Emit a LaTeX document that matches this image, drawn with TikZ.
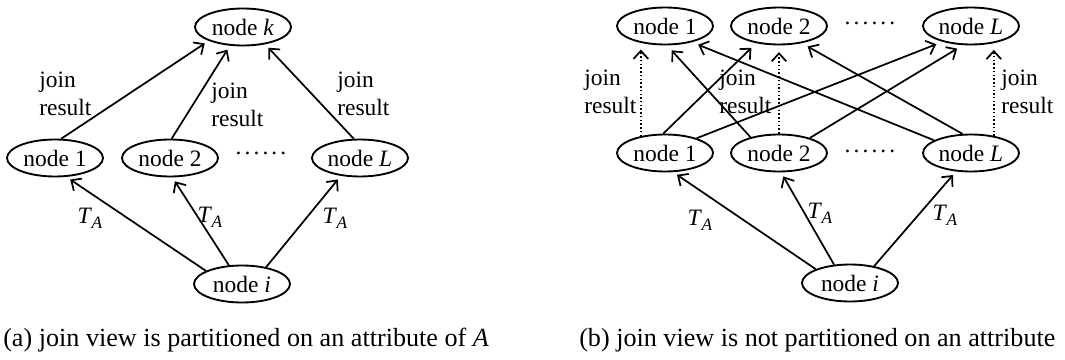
\documentclass[tikz,border=0pt]{standalone}
\usepackage{fontspec}
\setmainfont{Liberation Serif}
\usetikzlibrary{arrows.meta,shapes.geometric}
% subscripted relation name and the row of dots between peers
\newcommand\relTA{\textit{T}\kern-0.3pt\raisebox{-0.45ex}{\fontsize{13pt}{15pt}\selectfont\textit{A}}}
\newcommand\dotrow{.\kern2.3pt.\kern2.3pt.\kern2.3pt.\kern2.3pt.\kern2.3pt.}
\begin{document}
\begin{tikzpicture}[x=0.75pt,y=-0.75pt,
  font=\fontsize{17.6pt}{21pt}\selectfont,
  peer/.style={ellipse,draw,line width=1.4pt,minimum width=72pt,
    minimum height=27.75pt,inner xsep=1pt,inner ysep=0pt},
  link/.style={line width=1.3pt,-{Straight Barb[length=6pt,width=11pt]},shorten >=3.5pt},
  farlink/.style={link,shorten >=5pt},
  dotlink/.style={farlink,dash pattern=on 1.1pt off 1.7pt},
  lbl/.style={align=left,anchor=west,inner sep=0pt},
  sub/.style={inner sep=0pt},
  dots/.style={inner sep=0pt},
  figcaption/.style={anchor=base west,inner sep=0pt,font=\fontsize{19.6pt}{23pt}\selectfont}]
\useasboundingbox (0,0) rectangle (1065,360);

% ---- (a) partitioned join view ----
\node[peer] (lk) at (243,27)  {node \textit{k}};
\node[peer] (l1) at (55,158)  {node 1};
\node[peer] (l2) at (170,158) {node 2};
\node[dots] (ld) at (261,153) {\dotrow};
\node[peer] (lL) at (360,158) {node \textit{L}};
\node[peer] (li) at (242,284) {node \textit{i}};

\draw[link] (l1.72)  -- (lk.-158);
\draw[link] (l2.85)  -- (lk.-125);
\draw[link] (lL.108) -- (lk.-38);
\draw[link] (li.160) -- (l1.-59);
\draw[link] (li.125) -- (l2.-83);
\draw[link] (li.35)  -- (lL.-137);

\node[lbl] (lj1) at (39,94)  {join\\result};
\node[lbl] (lj2) at (211,105) {join\\result};
\node[lbl] (lj3) at (337,94) {join\\result};
\node[sub] (lt1) at (90,218)  {\relTA};
\node[sub] (lt2) at (210,217) {\relTA};
\node[sub] (lt3) at (335,218) {\relTA};

\node[figcaption] (capa) at (3,346) {(a) join view is partitioned on an attribute of \textit{A}};

% ---- (b) join view not partitioned ----
\node[peer] (t1) at (665,26) {node 1};
\node[peer] (t2) at (779,26) {node 2};
\node[dots] (td) at (870,23) {\dotrow};
\node[peer] (tL) at (971,26) {node \textit{L}};
\node[peer] (b1) at (665,153) {node 1};
\node[peer] (b2) at (779,153) {node 2};
\node[dots] (bd) at (870,151) {\dotrow};
\node[peer] (bL) at (971,153) {node \textit{L}};
\node[peer] (ri) at (850,283) {node \textit{i}};

\draw[dotlink] (b1.145) -- (t1.-145);
\draw[dotlink] (b2.north) -- (t2.south);
\draw[dotlink] (bL.37) -- (tL.-37);

\draw[farlink] (b1.95)  -- (t2.-143);
\draw[farlink] (b1.25)  -- (tL.-151);
\draw[farlink] (b2.151) -- (t1.-84);
\draw[farlink] (b2.26)  -- (tL.-113);
\draw[farlink] (bL.114) -- (t2.-37);
\draw[farlink] (bL.161) -- (t1.-31);

\draw[link] (ri.158) -- (b1.-67);
\draw[link] (ri.131) -- (b2.-84);
\draw[link] (ri.35)  -- (bL.-129);

\node[lbl] (rj1) at (584,92)  {join\\result};
\node[lbl] (rj2) at (719,92)  {join\\result};
\node[lbl] (rj3) at (1001,92) {join\\result};
\node[sub] (rt1) at (700,220) {\relTA};
\node[sub] (rt2) at (820,213) {\relTA};
\node[sub] (rt3) at (945,215) {\relTA};

\node[figcaption] (capb) at (579,346) {(b) join view is not partitioned on an attribute};
\end{tikzpicture}
\end{document}
